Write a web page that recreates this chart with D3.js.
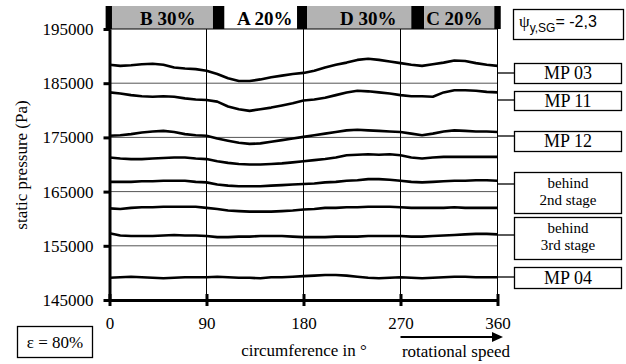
<!DOCTYPE html>
<html><head><meta charset="utf-8">
<script src="https://cdn.jsdelivr.net/npm/d3@7"></script>
<style>body{margin:0;background:#fff} text{font-family:'Liberation Serif','DejaVu Serif',serif}</style>
</head><body><svg id="c" width="626" height="364"></svg>
<script>
// ---------- data ----------
const degrees = [0,10,20,30,40,50,60,70,80,90,100,110,120,130,140,150,160,170,180,190,200,210,220,230,240,250,260,270,280,290,300,310,320,330,340,350,360];
const mp03 = [188400,188200,188300,188500,188600,188400,187900,187700,187600,187300,186700,185900,185400,185400,185700,186100,186400,186700,186900,187300,187900,188400,188800,189300,189500,189300,189000,188700,188400,188200,188500,188800,189200,189100,188700,188400,188200];
const mp11 = [183300,183100,182800,182600,182500,182600,182500,182200,182000,181900,181600,180700,180200,179900,180200,180500,180900,181300,181800,182000,182300,182800,183300,183600,183500,183300,183100,182800,182600,182600,182500,183300,183700,183700,183600,183400,183300];
const mp12 = [175300,175400,175600,175900,176100,176200,176000,175600,175400,175300,174800,174400,174000,173800,173900,174200,174500,174800,175100,175400,175700,176000,176300,176400,176300,176200,176100,176000,175700,175400,175700,176100,176300,176200,176100,176100,176000];
const line4 = [171300,171100,171000,171000,171100,171200,171300,171300,171100,171000,170600,170300,170100,170000,170000,170100,170200,170400,170600,170800,171000,171300,171700,171800,171900,171800,171900,171700,171300,171100,171300,171400,171400,171400,171400,171400,171400];
const behind2 = [166800,166800,166800,166900,166900,167000,167000,167000,166800,166700,166300,166100,166000,166000,166000,166100,166200,166300,166400,166500,166700,166800,167000,167100,167300,167300,167200,167000,166800,166700,166800,166900,167000,167000,167100,167100,167000];
const line6 = [161900,161800,162000,162100,162100,162200,162200,162200,162200,162000,161800,161500,161400,161300,161300,161300,161400,161500,161700,161800,162000,162000,162100,162100,162200,162200,162200,162100,162000,162000,162000,162000,162100,162000,162000,162000,162000];
const behind3 = [157300,156900,156800,156800,156800,156900,157000,156900,156900,156800,156600,156600,156700,156700,156800,156800,156800,156700,156600,156600,156600,156700,156700,156700,156800,156800,156800,156800,156700,156700,156800,156900,157000,157100,157200,157200,157100];
const mp04 = [149100,149200,149300,149200,149100,149000,149100,149200,149200,149200,149300,149200,149100,149100,149000,149200,149200,149300,149400,149500,149600,149600,149500,149300,149100,149000,149100,149200,149100,149000,149100,149200,149300,149300,149200,149200,149200];
const seriesList = [mp03, mp11, mp12, line4, behind2, line6, behind3, mp04];

const xTicks = [0, 90, 180, 270, 360];
const yTicks = [145000, 155000, 165000, 175000, 185000, 195000];
const yGrid = [155000, 165000, 175000, 185000];

// sectors on top band (degrees)
const bandStart = [-3.6, 2.3, 96, 106.5, 174, 183.5, 280, 292, 357];
const bandEnd   = [2.3, 96, 106.5, 174, 183.5, 280, 292, 357, 363];
const bandKind  = ["wall","B","wall","A","wall","D","wall","C","wall"];
const bandLabels = ["B 30%", "A 20%", "D 30%", "C 20%"];
const bandLabelAt = [54, 144, 240, 320];

const boxLabels = [["MP 03"], ["MP 11"], ["MP 12"], ["behind", "2nd stage"], ["behind", "3rd stage"], ["MP 04"]];

// ---------- drawing ----------
const svg = d3.select("#c");
const x = d3.scaleLinear().domain([0, 360]).range([109.5, 497.5]);
const y = d3.scaleLinear().domain([145000, 195000]).range([300, 29]);
const serif = "'Liberation Serif','DejaVu Serif',serif";
const sans = "'Liberation Sans','DejaVu Sans',sans-serif";

// band
const bandG = svg.append("g");
bandStart.forEach((s, i) => {
  const k = bandKind[i];
  if (k === "A") return;
  bandG.append("rect")
    .attr("x", x(s)).attr("y", 6)
    .attr("width", x(bandEnd[i]) - x(s)).attr("height", 23)
    .attr("fill", k === "wall" ? "#000" : "#b3b3b3");
});
bandLabels.forEach((t, i) => {
  bandG.append("text").attr("x", x(bandLabelAt[i])).attr("y", 25)
    .attr("text-anchor", "middle").style("font-family", serif)
    .attr("font-weight", "bold").attr("font-size", 19).text(t);
});

// grid
svg.append("g").selectAll("line").data(yGrid).join("line")
  .attr("x1", x(0)).attr("x2", x(360)).attr("y1", d => y(d)).attr("y2", d => y(d))
  .attr("stroke", "#555").attr("stroke-width", 1);
svg.append("g").selectAll("line").data([90, 180, 270, 360]).join("line")
  .attr("x1", d => x(d)).attr("x2", d => x(d)).attr("y1", y(195000)).attr("y2", y(145000))
  .attr("stroke", "#000").attr("stroke-width", 1);
svg.append("line").attr("x1", x(0)).attr("x2", x(360)).attr("y1", y(195000)).attr("y2", y(195000))
  .attr("stroke", "#000").attr("stroke-width", 1.2);

// series lines
const line = d3.line().x((d, i) => x(degrees[i])).y(d => y(d));
svg.append("g").selectAll("path").data(seriesList).join("path")
  .attr("d", line).attr("fill", "none").attr("stroke", "#000")
  .attr("stroke-width", 2.6).attr("stroke-linejoin", "round");

// axes
const yAxis = svg.append("g").attr("transform", `translate(${x(0)},0)`)
  .call(d3.axisLeft(y).tickValues(yTicks).tickFormat(d3.format("d")).tickSizeInner(6).tickSizeOuter(0).tickPadding(10));
yAxis.select(".domain").attr("stroke-width", 3);
yAxis.selectAll(".tick line").attr("stroke-width", 3).attr("x2", -6).attr("x1", 1);
yAxis.selectAll("text").style("font-family", serif).attr("font-size", 17).attr("fill", "#000");

const xAxis = svg.append("g").attr("transform", `translate(0,${y(145000)})`)
  .call(d3.axisBottom(x).tickValues(xTicks).tickSizeInner(5).tickSizeOuter(0).tickPadding(12));
xAxis.select(".domain").attr("stroke-width", 3);
xAxis.selectAll(".tick line").attr("stroke-width", 3).attr("y1", -6).attr("y2", 6);
xAxis.selectAll("text").style("font-family", serif).attr("font-size", 17).attr("fill", "#000");

// axis titles
svg.append("text").attr("transform", "translate(27,165) rotate(-90)")
  .attr("text-anchor", "middle").style("font-family", serif).attr("font-size", 17)
  .text("static pressure (Pa)");
svg.append("text").attr("x", 304).attr("y", 356).attr("text-anchor", "middle")
  .style("font-family", serif).attr("font-size", 17).text("circumference in °");

// rotational speed arrow
svg.append("line").attr("x1", x(270)).attr("x2", 494).attr("y1", 337).attr("y2", 337)
  .attr("stroke", "#000").attr("stroke-width", 2);
svg.append("path").attr("d", "M492,332 L503,337 L492,342 Z").attr("fill", "#000");
svg.append("text").attr("x", 456).attr("y", 357).attr("text-anchor", "middle")
  .style("font-family", serif).attr("font-size", 17).text("rotational speed");

// epsilon box
svg.append("rect").attr("x", 17.5).attr("y", 326.5).attr("width", 75).attr("height", 31)
  .attr("fill", "#fff").attr("stroke", "#000").attr("stroke-width", 1.3);
svg.append("text").attr("x", 55).attr("y", 348).attr("text-anchor", "middle")
  .style("font-family", serif).attr("font-size", 17).text("ε = 80%");

// psi box
svg.append("rect").attr("x", 513.5).attr("y", 9.5).attr("width", 110).attr("height", 30)
  .attr("fill", "#fff").attr("stroke", "#000").attr("stroke-width", 1.3);
const psi = svg.append("text").attr("x", 519).attr("y", 27).attr("font-size", 17);
psi.append("tspan").style("font-family", serif).text("ψ");
psi.append("tspan").style("font-family", sans).attr("font-size", 12).attr("dy", 5).text("y,SG");
psi.append("tspan").style("font-family", sans).attr("font-size", 16).attr("dy", -5).text("= -2,3");

// label boxes with connectors
const boxTop = [63, 91, 131, 172, 217, 267];
const boxBottom = [83, 110, 151, 213, 259, 288];
const connY = [73, 100, 136, 184, 235, 277];
boxLabels.forEach((lines, i) => {
  svg.append("line").attr("x1", x(360)).attr("x2", 514).attr("y1", connY[i]).attr("y2", connY[i])
    .attr("stroke", "#000").attr("stroke-width", 1.3);
  svg.append("rect").attr("x", 514.5).attr("y", boxTop[i] + 0.5).attr("width", 107)
    .attr("height", boxBottom[i] - boxTop[i]).attr("fill", "#fff")
    .attr("stroke", "#000").attr("stroke-width", 1.3);
  const cy = (boxTop[i] + boxBottom[i]) / 2;
  if (lines.length === 1) {
    svg.append("text").attr("x", 568).attr("y", cy + 6).attr("text-anchor", "middle")
      .style("font-family", serif).attr("font-size", 18).text(lines[0]);
  } else {
    lines.forEach((t, j) => {
      svg.append("text").attr("x", 568).attr("y", cy - 5 + j * 17).attr("text-anchor", "middle")
        .style("font-family", serif).attr("font-size", 15).text(t);
    });
  }
});
</script>
</body></html>
